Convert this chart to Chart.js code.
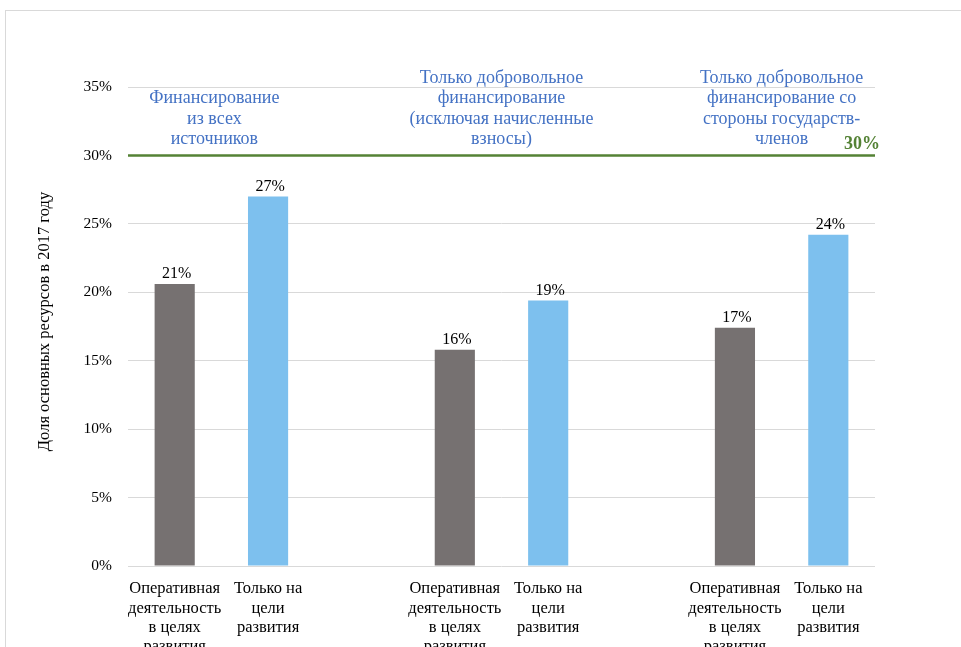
<!DOCTYPE html>
<html>
<head>
<meta charset="utf-8">
<script src="https://cdn.jsdelivr.net/npm/chart.js@4"></script>
<style>
  html, body { margin: 0; padding: 0; background: #fff; overflow: hidden; }
  #frame { position: absolute; left: 5px; top: 10px; width: 1000px; height: 700px; border: 1px solid #d9d9d9; }
  #wrap { position: absolute; left: 0; top: 0; width: 961px; height: 647px; }
</style>
</head>
<body>
<div id="frame"></div>
<div id="wrap"><canvas id="chart"></canvas></div>
<script>
// categories (empty slots make the gaps between groups)
const categories = [
  ['Оперативная', 'деятельность', 'в целях', 'развития'],
  ['Только на', 'цели', 'развития'],
  '',
  ['Оперативная', 'деятельность', 'в целях', 'развития'],
  ['Только на', 'цели', 'развития'],
  '',
  ['Оперативная', 'деятельность', 'в целях', 'развития'],
  ['Только на', 'цели', 'развития']
];
const shares = [20.6, 27.0, null, 15.8, 19.4, null, 17.4, 24.2];
const barColors = ['#767171', '#7dc0ee', null, '#767171', '#7dc0ee', null, '#767171', '#7dc0ee'];
const yTicks = [0, 5, 10, 15, 20, 25, 30, 35];
const targetLevel = 30;
const groupTitles = [
  ['Финансирование', 'из всех', 'источников'],
  ['Только добровольное', 'финансирование', '(исключая начисленные', 'взносы)'],
  ['Только добровольное', 'финансирование со', 'стороны государств-', 'членов']
];
const yTitle = 'Доля основных ресурсов в 2017 году';

const serif = '"Liberation Serif", "Times New Roman", serif';

const extras = {
  id: 'extras',
  afterDatasetsDraw(chart) {
    const { ctx, chartArea } = chart;
    const x = chart.scales.x;
    const y = chart.scales.y;
    ctx.save();

    // target line at 30%
    const ly = y.getPixelForValue(targetLevel);
    ctx.strokeStyle = '#548235';
    ctx.lineWidth = 2.5;
    ctx.beginPath();
    ctx.moveTo(chartArea.left, ly);
    ctx.lineTo(chartArea.right, ly);
    ctx.stroke();

    ctx.fillStyle = '#548235';
    ctx.font = 'bold 18px ' + serif;
    ctx.textAlign = 'right';
    ctx.textBaseline = 'alphabetic';
    ctx.fillText(targetLevel + '%', chartArea.right + 5, ly - 6);

    // value labels above bars
    const meta = chart.getDatasetMeta(0);
    ctx.fillStyle = '#000';
    ctx.font = '16px ' + serif;
    ctx.textAlign = 'center';
    ctx.textBaseline = 'bottom';
    shares.forEach((v, i) => {
      if (v == null) return;
      const bar = meta.data[i];
      ctx.fillText(Math.round(v) + '%', bar.x + 2, bar.y - 2);
    });

    // group titles
    ctx.fillStyle = '#4472c4';
    ctx.font = '18px ' + serif;
    ctx.textBaseline = 'middle';
    groupTitles.forEach((lines, g) => {
      let cx = (x.getPixelForValue(g * 3) + x.getPixelForValue(g * 3 + 1)) / 2;
      if (g === 0) cx -= 7;
      const bottom = ly - 16;
      lines.forEach((t, k) => {
        ctx.fillText(t, cx, bottom - (lines.length - 1 - k) * 20.5);
      });
    });

    // y axis title
    ctx.fillStyle = '#000';
    ctx.font = '16.5px ' + serif;
    ctx.translate(45, (chartArea.top + chartArea.bottom) / 2 - 5);
    ctx.rotate(-Math.PI / 2);
    ctx.fillText(yTitle, 0, 0);
    ctx.restore();
  }
};

new Chart(document.getElementById('chart'), {
  type: 'bar',
  data: {
    labels: categories,
    datasets: [{
      data: shares,
      backgroundColor: barColors,
      categoryPercentage: 1,
      barPercentage: 0.43
    }]
  },
  options: {
    responsive: true,
    maintainAspectRatio: false,
    animation: false,
    layout: { padding: { left: 0, right: 86, top: 87, bottom: 0 } },
    plugins: { legend: { display: false }, tooltip: { enabled: false } },
    scales: {
      x: {
        grid: { display: false },
        border: { display: false },
        ticks: {
          color: '#000',
          font: { family: serif, size: 16.5, lineHeight: 1.18 },
          padding: 5,
          maxRotation: 0,
          autoSkip: false
        },
        afterFit(scale) { scale.height = 81; }
      },
      y: {
        min: 0,
        max: 35,
        afterBuildTicks(scale) { scale.ticks = yTicks.map(v => ({ value: v })); },
        grid: { color: '#d9d9d9', lineWidth: 1, drawTicks: false },
        border: { display: false },
        ticks: {
          color: '#000',
          font: { family: serif, size: 15.5 },
          padding: 16,
          callback: v => v + '%'
        },
        afterFit(scale) { scale.width = 128; }
      }
    }
  },
  plugins: [extras]
});
</script>
</body>
</html>
